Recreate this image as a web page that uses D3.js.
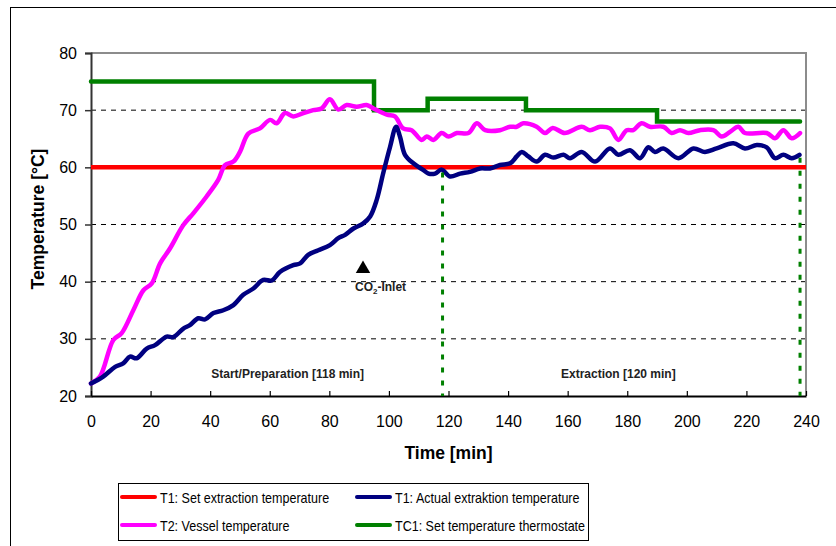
<!DOCTYPE html>
<html>
<head>
<meta charset="utf-8">
<script src="https://cdn.jsdelivr.net/npm/d3@7"></script>
<style>
  body { margin: 0; background: #fff; }
  text { font-family: Arial, "Liberation Sans", sans-serif; }
</style>
</head>
<body>
<script>
// Data ----------------------------------------------------------------------
var vesselTime = [0, 3, 7.5, 10.3, 14.2, 17.6, 20.4, 23.2, 26.5, 31, 34.4, 38.8, 42.7, 45, 47.8, 50, 52.8, 56.7,
    60.1, 62.3, 65.1, 67.9, 71.3, 74.6, 77.4, 80.2, 83, 85.8, 89.2, 92.5, 94.8, 99.3, 102, 104.8, 107.6,
    111, 112.7, 114.9, 117.7, 120, 122.8, 126.7, 129.5, 132.3, 137.3, 140.7, 142.9, 145.1, 149.6, 152.4,
    155, 159, 164.7, 167.5, 170.9, 174.2, 177, 179.8, 182, 184.8, 187.6, 192.1, 194.9, 197.7, 200.5,
    204.4, 208.9, 211.7, 214.5, 217.3, 219.5, 226.8, 229.6, 232.4, 235.2, 238];
var vesselTemp = [22.2, 23.4, 29.8, 31, 35, 38.5, 39.7, 43.2, 45.8, 49.9, 52, 54.9, 57.8, 60.4, 61, 62.7, 65.9, 66.8,
    68.3, 67.7, 69.5, 68.9, 69.5, 70, 70.3, 71.9, 70.1, 70.9, 70.6, 70.9, 70.3, 69.2, 68.9, 66.8, 66.5,
    64.8, 65.4, 64.8, 66, 65.4, 66, 66, 67.7, 66.5, 66.5, 67.1, 67.1, 67.7, 67.1, 66,
    66.9, 66, 67.1, 66.5, 67.1, 66.8, 64.8, 66.5, 66.5, 67.7, 67.1, 67.1, 66, 66.5, 66,
    66.5, 66.5, 65.4, 66.2, 67.1, 66, 66, 65.1, 66.5, 65.1, 66];

var actualTime = [0, 4.1, 8.1, 10.8, 13.1, 15.3, 18.7, 21.5, 25.4, 27.6, 31, 33.2, 36, 38.3, 41.1, 44.4, 47.8,
    51.1, 54.5, 57.8, 60.7, 63.4, 67.9, 70.2, 72.9, 76.3, 80.2, 83, 85.3, 88.1, 91.4, 93.7, 95.9, 98.1,
    100.4, 102.4, 103.7, 105.4, 108.2, 111.6, 113.3, 115.5, 117.7, 120.5, 123.9, 127.2, 130.6, 133.9,
    137.3, 140.7, 142.9, 144.6, 146.8, 149.6, 152.4, 155.2, 158.6, 160.8, 164.7, 169.2, 174.2, 177,
    180.9, 184.3, 187.1, 189.3, 192.1, 197.2, 202.2, 206.1, 210, 215.6, 219.5, 223.5, 226.8, 229.6,
    232.4, 235.2, 237.8];
var actualTemp = [22.2, 23.4, 25.1, 25.7, 26.9, 26.6, 28.3, 28.9, 30.4, 30.3, 31.8, 32.4, 33.6, 33.4, 34.5, 35, 35.9,
    37.7, 38.8, 40.3, 40.2, 41.7, 42.9, 43.2, 44.7, 45.5, 46.4, 47.6, 48.2, 49.3, 50.2, 51.4, 54.3, 59,
    63.6, 67.1, 65.4, 62.2, 60.7, 59.5, 58.9, 58.9, 59.6, 58.4, 58.9, 59.2, 59.8, 59.8,
    60.4, 60.7, 61.9, 62.7, 61.9, 61, 62.2, 61.7, 62.2, 61.6, 62.7, 61, 63.3, 62.2,
    63, 61.6, 63.5, 62.7, 63.3, 61.6, 63.3, 62.7, 63.3, 64.2, 63.3, 63.9, 63.5, 61.6,
    62.2, 61.6, 62.2];

var setTime = [0, 240];
var setTemp = [60, 60];

var thermoTime = [0, 95, 113, 146, 190, 238];
var thermoTemp = [75, 70, 72, 70, 68, 68];

var phaseEnd = [118, 238];
var phaseTop = [59.6, 62.2];
var phaseLabels = ["Start/Preparation [118 min]", "Extraction [120 min]"];
var phaseLabelAt = [66, 177];

var inletTime = 91.3, inletTemp = 42.4;

var xTicks = [0, 20, 40, 60, 80, 100, 120, 140, 160, 180, 200, 220, 240];
var yTicks = [20, 30, 40, 50, 60, 70, 80];
var gridTicks = [30, 40, 50, 60, 70];

var legendNames = ["T1: Set extraction temperature", "T1: Actual extraktion temperature",
    "T2: Vessel temperature", "TC1: Set temperature thermostate"];
var legendColors = ["#ff0000", "#000080", "#ff00ff", "#008000"];

// Scales ----------------------------------------------------------------------
var x = d3.scaleLinear().domain([0, 240]).range([91, 806]);
var y = d3.scaleLinear().domain([20, 80]).range([396, 53]);

var svg = d3.select("body").append("svg")
    .attr("width", 836)
    .attr("height", 546);

// outer frame
svg.append("rect")
    .attr("x", 10.5).attr("y", 7.5)
    .attr("width", 840).attr("height", 560)
    .attr("fill", "none")
    .attr("stroke", "#000")
    .attr("stroke-width", 1);

// grid
svg.append("g").selectAll("line")
    .data(gridTicks)
    .enter().append("line")
    .attr("x1", x(0)).attr("x2", x(240))
    .attr("y1", function(d) { return y(d); })
    .attr("y2", function(d) { return y(d); })
    .attr("stroke", "#000")
    .attr("stroke-width", 1)
    .attr("stroke-dasharray", "5,5");

// plot border top / right
svg.append("path")
    .attr("d", "M" + x(0) + "," + y(80) + "H" + x(240) + "V" + y(20))
    .attr("fill", "none")
    .attr("stroke", "#8c8c8c")
    .attr("stroke-width", 2);

// axes
var yAxis = svg.append("g")
    .attr("transform", "translate(" + x(0) + ",0)")
    .call(d3.axisLeft(y).tickValues(yTicks).tickSize(6).tickPadding(8));
yAxis.select(".domain").attr("stroke", "#333").attr("stroke-width", 2);
yAxis.selectAll(".tick line").attr("stroke", "#333").attr("stroke-width", 1.5);
yAxis.selectAll("text").attr("font-size", 16).attr("fill", "#000")
    .attr("font-family", "Arial, 'Liberation Sans', sans-serif");

var xAxis = svg.append("g")
    .attr("transform", "translate(0," + y(20) + ")")
    .call(d3.axisBottom(x).tickValues(xTicks).tickSizeInner(-5).tickSizeOuter(0));
xAxis.select(".domain").attr("stroke", "#000").attr("stroke-width", 2);
xAxis.selectAll(".tick line").attr("stroke", "#000").attr("stroke-width", 1.2);
xAxis.selectAll("text").attr("font-size", 16).attr("fill", "#000")
    .attr("y", 20)
    .attr("font-family", "Arial, 'Liberation Sans', sans-serif");

// axis titles
svg.append("text")
    .attr("x", (x(0) + x(240)) / 2)
    .attr("y", 459)
    .attr("text-anchor", "middle")
    .attr("font-size", 17.5)
    .attr("font-weight", "bold")
    .text("Time [min]");

svg.append("text")
    .attr("transform", "translate(44,219) rotate(-90)")
    .attr("text-anchor", "middle")
    .attr("font-size", 17.5)
    .attr("font-weight", "bold")
    .text("Temperature [°C]");

// series ------------------------------------------------------------------------
function pts(t, v) {
    return t.map(function(d, i) { return [d, v[i]]; });
}

var smooth = d3.line()
    .x(function(d) { return x(d[0]); })
    .y(function(d) { return y(d[1]); })
    .curve(d3.curveCatmullRom.alpha(0.5));

var step = d3.line()
    .x(function(d) { return x(d[0]); })
    .y(function(d) { return y(d[1]); })
    .curve(d3.curveStepAfter);

svg.append("path")
    .datum(pts(setTime, setTemp))
    .attr("d", step)
    .attr("fill", "none")
    .attr("stroke", "#ff0000")
    .attr("stroke-width", 4.5);

svg.append("path")
    .datum(pts(thermoTime, thermoTemp))
    .attr("d", step)
    .attr("fill", "none")
    .attr("stroke", "#008000")
    .attr("stroke-width", 4.5)
    .attr("stroke-linecap", "round");

svg.append("path")
    .datum(pts(vesselTime, vesselTemp))
    .attr("d", smooth)
    .attr("fill", "none")
    .attr("stroke", "#ff00ff")
    .attr("stroke-width", 4.5)
    .attr("stroke-linejoin", "round")
    .attr("stroke-linecap", "round");

svg.append("path")
    .datum(pts(actualTime, actualTemp))
    .attr("d", smooth)
    .attr("fill", "none")
    .attr("stroke", "#000080")
    .attr("stroke-width", 4.5)
    .attr("stroke-linejoin", "round")
    .attr("stroke-linecap", "round");

// phase markers
svg.append("g").selectAll("line")
    .data(phaseEnd)
    .enter().append("line")
    .attr("x1", function(d) { return x(d); })
    .attr("x2", function(d) { return x(d); })
    .attr("y1", function(d, i) { return y(phaseTop[i]) + 3; })
    .attr("y2", y(20))
    .attr("stroke", "#008000")
    .attr("stroke-width", 3)
    .attr("stroke-dasharray", "5,8");

svg.append("g").selectAll("text")
    .data(phaseLabels)
    .enter().append("text")
    .attr("x", function(d, i) { return x(phaseLabelAt[i]); })
    .attr("y", y(20) - 18)
    .attr("text-anchor", "middle")
    .attr("font-size", 12)
    .attr("font-weight", "bold")
    .attr("fill", "#222")
    .text(function(d) { return d; });

// CO2 inlet marker
svg.append("path")
    .attr("d", d3.symbol().type(d3.symbolTriangle).size(90))
    .attr("transform", "translate(" + x(inletTime) + "," + (y(inletTemp) + 1) + ")")
    .attr("fill", "#000");

var co2 = svg.append("text")
    .attr("x", x(inletTime) - 8)
    .attr("y", y(inletTemp) + 23)
    .attr("font-size", 12)
    .attr("font-weight", "bold")
    .attr("fill", "#222");
co2.append("tspan").text("CO");
co2.append("tspan").attr("font-size", 8).attr("dy", 3).text("2");
co2.append("tspan").attr("dy", -3).text("-Inlet");

// legend --------------------------------------------------------------------------
var legend = svg.append("g");
legend.append("rect")
    .attr("x", 118.5).attr("y", 483.5)
    .attr("width", 470).attr("height", 57)
    .attr("fill", "#fff")
    .attr("stroke", "#000")
    .attr("stroke-width", 1);

var items = legend.selectAll("g.item")
    .data(legendNames)
    .enter().append("g")
    .attr("class", "item")
    .attr("transform", function(d, i) {
        return "translate(" + (i % 2 ? 357 : 122) + "," + (i < 2 ? 497 : 525) + ")";
    });

items.append("line")
    .attr("x1", 0).attr("x2", 33)
    .attr("stroke", function(d, i) { return legendColors[i]; })
    .attr("stroke-width", 4)
    .attr("stroke-linecap", "round");

items.append("text")
    .attr("x", 38)
    .attr("y", 5.5)
    .attr("font-size", 15)
    .text(function(d) { return d; })
    .each(function() {
        var w = this.getComputedTextLength();
        d3.select(this).attr("textLength", w * 0.835).attr("lengthAdjust", "spacingAndGlyphs");
    });
</script>
</body>
</html>
